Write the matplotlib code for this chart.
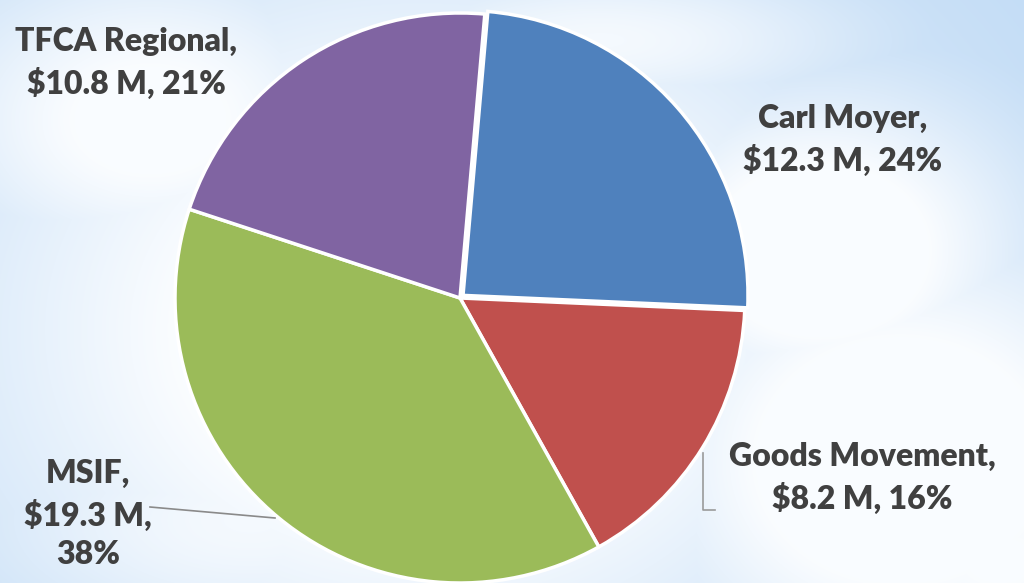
import numpy as np
import matplotlib.pyplot as plt

programs = ['Carl Moyer', 'Goods Movement', 'MSIF', 'TFCA Regional']
funding = [12.3, 8.2, 19.3, 10.8]  # $ millions
shares = [24, 16, 38, 21]
colors = ['#4F81BD', '#C0504D', '#9BBB59', '#8064A2']

W, H = 1024, 583
fig = plt.figure(figsize=(W / 100, H / 100), dpi=100)
ax = fig.add_axes([0, 0, 1, 1])

# sky-with-clouds backdrop
yy, xx = np.mgrid[0:H, 0:W]
sky = np.array([0.74, 0.85, 0.96])
cloud = np.zeros((H, W))
for cx, cy, sx, sy, a in [(420, 330, 340, 270, 1.0), (150, 120, 170, 120, 0.85),
                          (820, 250, 150, 120, 1.0), (900, 460, 200, 170, 1.0),
                          (600, 40, 200, 60, 0.7), (250, 520, 220, 100, 0.7),
                          (40, 330, 90, 160, 0.5), (1000, 560, 120, 80, 0.8)]:
    cloud = np.maximum(cloud, a * np.exp(-((xx - cx) ** 2 / (2 * sx ** 2) + (yy - cy) ** 2 / (2 * sy ** 2))))
cloud = np.clip(cloud * 1.3, 0, 1)[..., None]
bg = sky * (1 - cloud) + np.array([0.98, 0.99, 1.0]) * cloud
ax.imshow(bg, extent=[0, W, 0, H], origin='upper', zorder=0, aspect='auto')

ax.pie(funding, colors=colors, startangle=85, counterclock=False,
       center=(460, 285), radius=285, explode=[4, 0, 0, 0],
       wedgeprops=dict(edgecolor='white', linewidth=2.5), frame=True)
ax.set_xlim(0, W)
ax.set_ylim(0, H)
ax.set_aspect('equal')
ax.axis('off')

label_kw = dict(fontsize=23, fontweight='heavy', color='#404040', family='Lato',
                ha='center', va='center', linespacing=1.4, zorder=5)
pos = [(843, 443), (862, 105), (88, 69), (126, 520)]
texts = [f'{programs[0]},\n${funding[0]} M, {shares[0]}%',
         f'{programs[1]},\n${funding[1]} M, {shares[1]}%',
         f'{programs[2]},\n${funding[2]} M,\n{shares[2]}%',
         f'{programs[3]},\n${funding[3]} M, {shares[3]}%']
for (x, y), t in zip(pos, texts):
    ax.text(x, y, t, **label_kw)

# leader lines
ax.plot([703, 703, 715], [130, 73, 73], color='#9a9a9a', lw=1.2, zorder=4)
ax.plot([150, 275], [76, 65], color='#8a8a8a', lw=1.2, zorder=4)

fig.savefig('out.png', dpi=100)
